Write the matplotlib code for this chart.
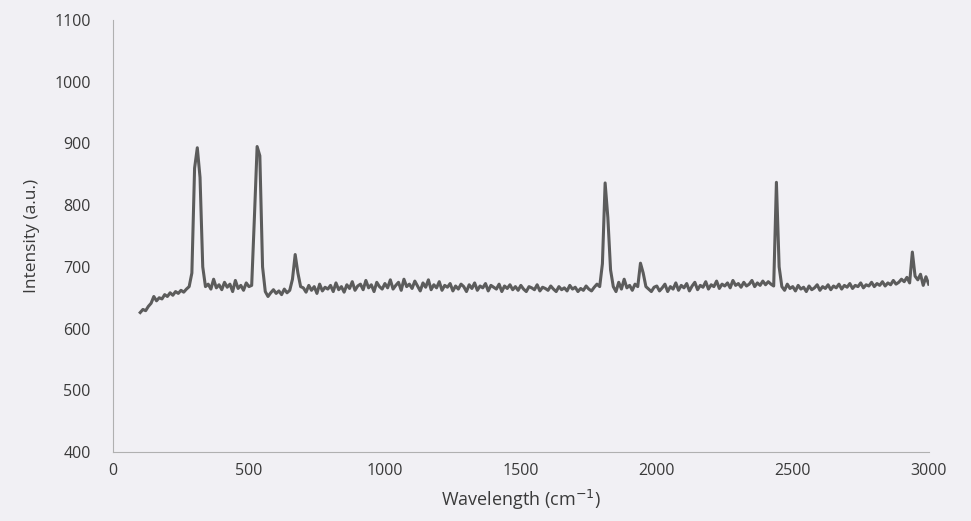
import numpy as np
import matplotlib.pyplot as plt

# Raman shift axis, one reading every 10 cm-1
wavenumber = np.arange(100, 3001, 10)

intensity = [
    626, 631, 629, 636, 641, 652, 645, 650, 648, 655,   # 100-190
    652, 658, 654, 660, 657, 662, 659, 664, 668, 690,   # 200-290
    860, 893, 845, 700, 668, 672, 664, 680, 666, 671,   # 300-390
    663, 675, 667, 672, 660, 678, 665, 670, 662, 674,   # 400-490
    668, 670, 780, 895, 880, 700, 660, 652, 658, 663,   # 500-590
    657, 661, 655, 664, 658, 662, 680, 720, 690, 668,   # 600-690
    666, 659, 670, 662, 668, 657, 672, 661, 667, 664,   # 700-790
    670, 660, 674, 663, 668, 659, 671, 665, 676, 662,   # 800-890
    669, 672, 663, 678, 666, 671, 660, 675, 668, 664,   # 900-990
    673, 666, 679, 664, 670, 675, 662, 680, 668, 672,   # 1000-1090
    665, 677, 669, 661, 674, 667, 679, 663, 671, 666,   # 1100-1190
    676, 662, 670, 667, 673, 661, 669, 664, 672, 668,   # 1200-1290
    660, 671, 665, 674, 662, 669, 666, 673, 661, 670,   # 1300-1390
    667, 664, 672, 660, 669, 665, 671, 663, 668, 662,   # 1400-1490
    670, 664, 660, 668, 666, 663, 671, 661, 667, 665,   # 1500-1590
    662, 669, 664, 660, 668, 663, 666, 661, 670, 664,   # 1600-1690
    667, 660, 665, 662, 669, 664, 661, 667, 672, 668,   # 1700-1790
    705, 836, 780, 695, 668, 660, 675, 664, 680, 666,   # 1800-1890
    670, 662, 672, 668, 706, 690, 668, 664, 660, 667,   # 1900-1990
    669, 661, 666, 672, 660, 668, 664, 674, 662, 670,   # 2000-2090
    666, 673, 661, 669, 675, 663, 670, 667, 676, 664,   # 2100-2190
    671, 668, 677, 665, 672, 669, 674, 666, 678, 670,   # 2200-2290
    673, 667, 675, 669, 672, 678, 668, 674, 670, 677,   # 2300-2390
    671, 676, 672, 669, 837, 700, 668, 662, 672, 665,   # 2400-2490
    668, 661, 670, 664, 667, 660, 669, 663, 666, 671,   # 2500-2590
    662, 668, 665, 671, 663, 669, 666, 672, 664, 670,   # 2600-2690
    667, 673, 665, 670, 668, 674, 666, 671, 669, 675,   # 2700-2790
    668, 673, 670, 676, 669, 674, 671, 678, 672, 675,   # 2800-2890
    680, 676, 683, 674, 724, 685, 679, 688, 670, 684,   # 2900-2990
    672,                                                # 3000
]

xticks = [0, 500, 1000, 1500, 2000, 2500, 3000]
yticks = [400, 500, 600, 700, 800, 900, 1000, 1100]

paper = '#f1f0f4'
text_col = '#3a3a3a'

plt.rcParams['font.family'] = ['Open Sans', 'DejaVu Sans']

fig = plt.figure(figsize=(9.71, 5.21), dpi=100, facecolor=paper)
ax = fig.add_axes([0.1164, 0.1324, 0.84, 0.8292], facecolor=paper)

ax.plot(wavenumber, intensity, color='#5c5c5c', linewidth=2.2)

ax.set_xlim(0, 3000)
ax.set_ylim(400, 1100)
ax.set_xticks(xticks)
ax.set_yticks(yticks)
ax.tick_params(axis='x', length=0, labelsize=11.5, colors=text_col, pad=8)
ax.tick_params(axis='y', length=0, labelsize=11.5, colors=text_col, pad=16)

for side in ['top', 'right']:
    ax.spines[side].set_visible(False)
for side in ['left', 'bottom']:
    ax.spines[side].set_color('#b0b0b0')
    ax.spines[side].set_linewidth(0.8)

ax.set_xlabel('Wavelength (cm$^{-1}$)', fontsize=13, color=text_col, labelpad=6)
ax.set_ylabel('Intensity (a.u.)', fontsize=12.5, color=text_col, labelpad=10)

fig.savefig('out.png', dpi=100, facecolor=paper)
